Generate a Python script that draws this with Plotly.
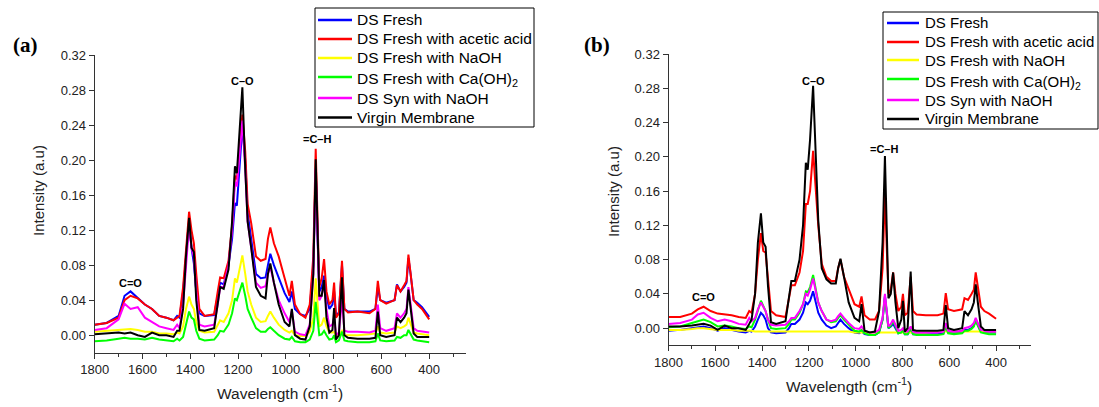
import plotly.graph_objects as go

# Raman shift grid (cm-1), shared by every spectrum
WAVENUMBER = [1800, 1750, 1700, 1675, 1650, 1620, 1590, 1560, 1530, 1500,
              1470, 1455, 1445, 1430, 1418, 1405, 1395, 1385, 1375, 1362,
              1340, 1300, 1285, 1275, 1260, 1240, 1225, 1213, 1205, 1195,
              1182, 1170, 1160, 1145, 1125, 1105, 1085, 1075, 1065, 1050,
              1030, 1005, 985, 975, 962, 940, 918, 900, 885, 875,
              868, 860, 850, 840, 830, 818, 805, 798, 790, 778,
              765, 755, 740, 700, 650, 625, 615, 605, 580, 545,
              535, 520, 505, 495, 487, 478, 465, 450, 430, 400]

SERIES_NAMES = ["DS Fresh", "DS Fresh with acetic acid", "DS Fresh with NaOH",
                "DS Fresh with Ca(OH)<sub>2</sub>", "DS Syn with NaOH", "Virgin Membrane"]
SERIES_COLORS = ["#0000FF", "#FF0000", "#FFFF00", "#00FF00", "#FF00FF", "#000000"]

# ---- panel (a) ----
A_DS_FRESH = [.012, .014, .022, .045, .05, .043, .035, .03, .022, .02,
              .017, .022, .02, .05, .09, .13, .1, .082, .05, .025,
              .022, .023, .045, .06, .058, .08, .11, .151, .148, .19,
              .238, .2, .14, .11, .07, .065, .066, .08, .093, .08,
              .065, .048, .038, .05, .03, .024, .022, .03, .08, .19,
              .12, .05, .055, .068, .045, .03, .035, .05, .022, .026,
              .08, .03, .027, .027, .027, .03, .055, .04, .037, .04,
              .058, .05, .055, .06, .088, .07, .04, .037, .032, .021]
A_ACETIC = [.012, .014, .02, .04, .045, .042, .035, .03, .022, .02,
            .017, .02, .022, .055, .1, .141, .12, .105, .07, .03,
            .022, .024, .05, .066, .065, .085, .125, .182, .178, .21,
            .252, .21, .15, .128, .09, .085, .087, .11, .123, .105,
            .09, .065, .045, .062, .035, .024, .02, .035, .09, .213,
            .15, .055, .065, .087, .05, .035, .04, .06, .02, .025,
            .085, .03, .026, .027, .025, .03, .062, .04, .036, .04,
            .057, .05, .057, .062, .092, .07, .04, .035, .03, .018]
A_NAOH = [.004, .005, .006, .007, .007, .006, .004, .004, .002, .002,
          .001, .003, .002, .01, .03, .044, .035, .03, .015, .005,
          .003, .004, .012, .017, .015, .025, .04, .065, .06, .075,
          .091, .07, .05, .035, .02, .015, .016, .022, .027, .02,
          .012, .006, .003, .005, 0, -.001, -.001, .004, .02, .065,
          .04, .01, .012, .02, .01, .003, .003, .004, -.002, 0,
          .005, 0, 0, 0, .001, .002, .01, .003, .002, .003,
          .01, .008, .01, .012, .02, .012, .003, .002, .001, 0]
A_CAOH2 = [-.007, -.006, -.004, -.003, -.004, -.004, -.005, -.003, -.005, -.006,
           -.007, -.004, -.006, -.002, .012, .027, .02, .018, .005, -.004,
           -.006, -.005, 0, .005, .004, .012, .025, .042, .04, .05,
           .06, .045, .03, .02, .008, .004, .004, .007, .009, .005,
           0, -.004, -.005, -.002, -.007, -.008, -.008, -.005, .005, .038,
           .02, 0, .001, .005, 0, -.005, -.004, 0, -.008, -.006,
           .004, -.006, -.007, -.008, -.008, -.007, .002, -.006, -.007, -.006,
           -.002, -.003, 0, 0, .006, .002, -.005, -.006, -.007, -.008]
A_SYN_NAOH = [.006, .008, .018, .036, .03, .032, .02, .015, .01, .008,
              .006, .012, .008, .035, .08, .125, .1, .09, .05, .012,
              .01, .012, .035, .055, .055, .08, .12, .175, .17, .2,
              .245, .19, .13, .1, .06, .054, .056, .07, .078, .06,
              .04, .025, .015, .028, .004, .001, 0, .012, .07, .19,
              .12, .04, .045, .06, .03, .01, .012, .02, 0, .003,
              .04, .005, .004, .004, .003, .005, .035, .008, .005, .008,
              .025, .02, .025, .03, .055, .035, .008, .005, .004, .003]
A_VIRGIN = [.001, .002, .003, .002, .003, 0, -.002, .003, 0, 0,
            -.002, .005, .005, .03, .09, .134, .1, .095, .04, .006,
            .005, .008, .035, .055, .053, .075, .13, .193, .185, .23,
            .283, .19, .13, .1, .055, .045, .042, .07, .082, .06,
            .035, .015, .01, .03, 0, -.004, -.005, .01, .07, .201,
            .13, .045, .045, .063, .02, .003, .006, .031, -.005, 0,
            .066, 0, -.003, -.004, -.004, -.003, .027, 0, -.002, 0,
            .02, .015, .02, .025, .052, .03, .002, -.002, -.002, -.002]

# ---- panel (b) ----
B_DS_FRESH = [-.003, -.002, 0, .001, .002, 0, -.003, 0, -.002, -.004,
              -.005, -.003, -.004, .002, .01, .018, .015, .01, 0, -.005,
              -.006, -.005, 0, .005, .005, .01, .018, .03, .028, .032,
              .043, .03, .018, .01, .003, 0, .002, .006, .01, .005,
              0, -.005, -.006, -.004, -.007, -.008, -.008, -.005, .01, .038,
              .02, 0, .002, .005, 0, -.006, -.005, -.003, -.007, -.007,
              -.002, -.007, -.007, -.007, -.007, -.006, .003, -.005, -.006, -.005,
              -.002, -.002, 0, .003, .01, .004, -.004, -.005, -.005, -.005]
B_ACETIC = [.013, .013, .017, .022, .025, .02, .017, .016, .015, .013,
            .012, .02, .018, .04, .08, .111, .09, .088, .06, .02,
            .015, .013, .035, .05, .05, .065, .09, .145, .145, .16,
            .207, .16, .12, .075, .06, .055, .055, .07, .08, .06,
            .045, .028, .025, .037, .015, .01, .01, .02, .07, .16,
            .1, .04, .045, .065, .04, .02, .025, .04, .015, .018,
            .06, .02, .016, .015, .015, .017, .041, .022, .02, .022,
            .035, .033, .04, .045, .065, .05, .025, .02, .017, .011]
B_NAOH = [-.002, -.002, -.001, 0, 0, -.001, -.002, -.002, -.002, -.003,
          -.003, -.003, -.003, -.004, -.004, -.004, -.004, -.004, -.004, -.004,
          -.004, -.004, -.004, -.004, -.004, -.004, -.004, -.004, -.004, -.004,
          -.004, -.004, -.004, -.004, -.004, -.004, -.004, -.004, -.004, -.004,
          -.004, -.005, -.005, -.005, -.005, -.005, -.005, -.005, -.005, -.005,
          -.005, -.005, -.005, -.005, -.005, -.005, -.005, -.005, -.005, -.005,
          -.005, -.005, -.005, -.005, -.004, -.004, -.004, -.004, -.004, -.004,
          -.004, -.004, -.004, -.004, -.004, -.004, -.004, -.004, -.004, -.004]
B_CAOH2 = [.001, .002, .006, .008, .01, .007, .002, .003, .002, 0,
           -.001, .002, .001, .01, .022, .032, .026, .02, .01, 0,
           -.001, 0, .005, .01, .01, .018, .028, .043, .042, .048,
           .062, .045, .03, .02, .01, .007, .008, .012, .015, .01,
           .004, -.003, -.004, -.002, -.006, -.008, -.008, -.005, .01, .036,
           .02, 0, .003, .008, .002, -.006, -.005, -.003, -.007, -.007,
           0, -.007, -.008, -.008, -.008, -.007, .002, -.006, -.007, -.006,
           -.003, -.003, -.001, .002, .009, .003, -.005, -.006, -.007, -.007]
B_SYN_NAOH = [.005, .006, .01, .016, .018, .012, .008, .01, .008, .005,
              .004, .012, .008, .012, .022, .03, .025, .02, .01, .004,
              .003, .004, .008, .012, .012, .02, .028, .04, .038, .045,
              .058, .042, .03, .02, .01, .008, .01, .014, .017, .012,
              .006, 0, -.001, .002, -.003, -.005, -.005, -.002, .012, .04,
              .022, .002, .005, .01, .004, -.003, -.002, 0, -.004, -.004,
              .002, -.004, -.005, -.005, -.005, -.004, .006, -.003, -.004, -.003,
              0, .001, .003, .006, .012, .006, -.002, -.003, -.004, -.004]
B_VIRGIN = [.002, .002, .003, .004, .005, .003, -.002, .003, 0, 0,
            -.002, .005, .01, .04, .1, .134, .1, .095, .05, .007,
            .005, .008, .04, .055, .055, .08, .12, .193, .185, .22,
            .283, .2, .126, .07, .057, .052, .052, .07, .081, .06,
            .03, .012, .008, .028, -.003, -.005, -.004, .02, .1, .201,
            .12, .035, .04, .065, .03, 0, .01, .032, -.004, 0,
            .066, -.002, -.003, -.003, -.003, -.002, .027, 0, -.002, 0,
            .02, .015, .022, .03, .051, .03, .002, -.002, -.002, -.002]

PANEL_A = [A_DS_FRESH, A_ACETIC, A_NAOH, A_CAOH2, A_SYN_NAOH, A_VIRGIN]
PANEL_B = [B_DS_FRESH, B_ACETIC, B_NAOH, B_CAOH2, B_SYN_NAOH, B_VIRGIN]

Y_TICKS = [0.00, 0.04, 0.08, 0.12, 0.16, 0.20, 0.24, 0.28, 0.32]
X_TICKS = [1800, 1600, 1400, 1200, 1000, 800, 600, 400]

FONT = "Liberation Sans, Arial, sans-serif"
W, H = 1099, 407


def px(x):
    return x / W


def py(y):
    return 1 - y / H


fig = go.Figure()
for values, name, color in zip(PANEL_A, SERIES_NAMES, SERIES_COLORS):
    fig.add_trace(go.Scatter(x=WAVENUMBER, y=values, name=name, mode="lines",
                             line=dict(color=color, width=2),
                             xaxis="x", yaxis="y", showlegend=False))
for values, name, color in zip(PANEL_B, SERIES_NAMES, SERIES_COLORS):
    fig.add_trace(go.Scatter(x=WAVENUMBER, y=values, name=name, mode="lines",
                             line=dict(color=color, width=2),
                             xaxis="x2", yaxis="y2", showlegend=False))

axis_common = dict(showline=True, linecolor="#333", linewidth=1, showgrid=False,
                   zeroline=False, ticks="outside", ticklen=5, tickcolor="#333",
                   tickfont=dict(family=FONT, size=13, color="#222"))

xa = dict(axis_common, tickvals=X_TICKS,
          minor=dict(ticks="outside", dtick=100, ticklen=3, tickcolor="#333"))
ya = dict(axis_common, tickvals=Y_TICKS, tickformat=".2f")

fig.update_layout(
    width=W, height=H,
    margin=dict(l=0, r=0, t=0, b=0, autoexpand=False),
    paper_bgcolor="white", plot_bgcolor="white",
    showlegend=False,
    xaxis=dict(xa, domain=[px(94.7), px(466)], range=[1800, 246], anchor="y"),
    yaxis=dict(ya, domain=[py(352.7), py(55)], range=[-0.02, 0.32], anchor="x"),
    xaxis2=dict(xa, domain=[px(668.5), px(1030.7)], range=[1800, 252], anchor="y2"),
    yaxis2=dict(ya, domain=[py(345.3), py(54)], range=[-0.02, 0.32], anchor="x2"),
)

# Boxed key for each panel: frame, colour sample and series name per row
KEYS = [
    dict(box=(315, 8, 534, 127), line=(318, 352), text_x=355, size=15.5,
         rows=[20, 39, 58, 77, 98, 117.5]),
    dict(box=(883, 12, 1098, 129), line=(887, 919), text_x=923, size=15,
         rows=[23, 42, 60, 79, 100, 119]),
]
for key in KEYS:
    x0, y0, x1, y1 = key["box"]
    fig.add_shape(type="rect", xref="paper", yref="paper",
                  x0=px(x0), y0=py(y1), x1=px(x1), y1=py(y0),
                  line=dict(color="#000", width=1), fillcolor="white", layer="above")
    for row_y, name, color in zip(key["rows"], SERIES_NAMES, SERIES_COLORS):
        fig.add_shape(type="line", xref="paper", yref="paper",
                      x0=px(key["line"][0]), x1=px(key["line"][1]),
                      y0=py(row_y), y1=py(row_y),
                      line=dict(color=color, width=2.5), layer="above")
        shift = 3 if "<sub>" in name else 0
        fig.add_annotation(x=px(key["text_x"]), y=py(row_y + shift),
                           xref="paper", yref="paper", text=name, showarrow=False,
                           xanchor="left", yanchor="middle",
                           font=dict(family=FONT, size=key["size"], color="#000"))

# Peak labels
peak_font = dict(family=FONT, size=11, color="#000")
for xref, yref, x, y, text in [
    ("x", "y", 1181, 0.290, "<b>C–O</b>"),
    ("x", "y", 871, 0.2235, "<b>=C–H</b>"),
    ("x", "y", 1652, 0.060, "<b>C=O</b>"),
    ("x2", "y2", 1181, 0.289, "<b>C–O</b>"),
    ("x2", "y2", 879, 0.2096, "<b>=C–H</b>"),
    ("x2", "y2", 1652, 0.0358, "<b>C=O</b>"),
]:
    fig.add_annotation(x=x, y=y, xref=xref, yref=yref, text=text, showarrow=False,
                       xanchor="center", yanchor="middle", font=peak_font)

# Panel letters and axis titles
for x, y, text in [(25, 45, "<b>(a)</b>"), (597, 45, "<b>(b)</b>")]:
    fig.add_annotation(x=px(x), y=py(y), xref="paper", yref="paper", text=text,
                       showarrow=False, xanchor="center", yanchor="middle",
                       font=dict(family="Liberation Serif, Times New Roman, serif",
                                 size=21, color="#000"))
for x, y in [(38, 191), (613, 192)]:
    fig.add_annotation(x=px(x), y=py(y), xref="paper", yref="paper",
                       text="Intensity (a.u)", textangle=-90, showarrow=False,
                       xanchor="center", yanchor="middle",
                       font=dict(family=FONT, size=15, color="#222"))
for x, y in [(280, 392), (849, 385)]:
    fig.add_annotation(x=px(x), y=py(y), xref="paper", yref="paper",
                       text="Wavelength (cm<sup>-1</sup>)", showarrow=False,
                       xanchor="center", yanchor="middle",
                       font=dict(family=FONT, size=15.5, color="#222"))

fig.write_html("out.html")
